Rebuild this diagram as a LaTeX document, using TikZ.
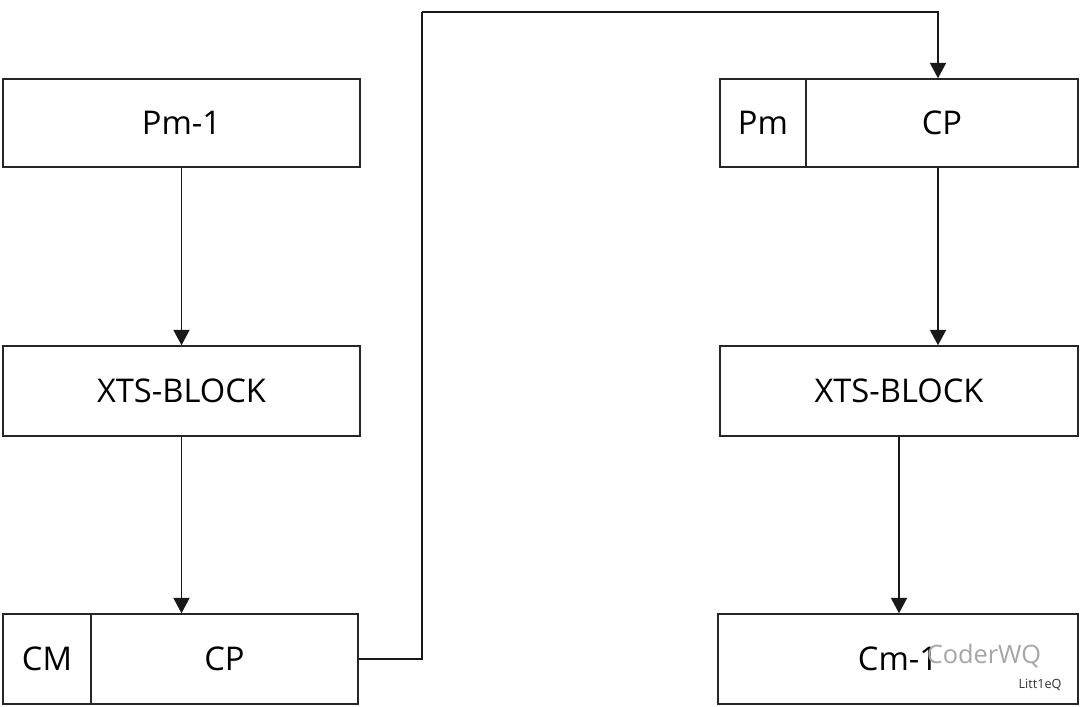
\documentclass[tikz,border=0pt]{standalone}
\usepackage{fontspec}
\setmainfont{Open Sans}
\usetikzlibrary{arrows.meta}
\begin{document}
\begin{tikzpicture}[x=0.75pt,y=-0.75pt,
  box/.style={draw=black!85,line width=1.1pt,fill=white,inner sep=0pt,font=\fontsize{24.5}{28}\selectfont},
  arr/.style={draw=black!90,line width=1.1pt,-{Triangle[width=12pt,length=11.5pt]}},
  wire/.style={draw=black!90,line width=1.1pt}]
\useasboundingbox (0,0) rectangle (1080,706);
% left column
\node[box,minimum width=267.75pt,minimum height=66pt] (a) at (181.5,123) {Pm-1};
\node[box,minimum width=267.75pt,minimum height=67.5pt] (b) at (181.5,391) {XTS-BLOCK};
\node[box,minimum width=66pt,minimum height=67.5pt] (ccm) at (47,659) {CM};
\node[box,minimum width=200.25pt,minimum height=67.5pt] (ccp) at (224.5,659) {CP};
% right column
\node[box,minimum width=64.5pt,minimum height=66pt] (dpm) at (763,123) {Pm};
\node[box,minimum width=204pt,minimum height=66pt] (dcp) at (942,123) {CP};
\node[box,minimum width=268.5pt,minimum height=67.5pt] (e) at (899,391) {XTS-BLOCK};
\node[box,minimum width=270pt,minimum height=67.5pt] (f) at (898,659) {Cm-1};
% watermark
\node[text=black!35,font=\fontsize{19}{22}\selectfont,inner sep=0pt] (wm) at (984,656) {CoderWQ};
\node[text=black!80,font=\fontsize{9.5}{11}\selectfont,inner sep=0pt] (wm2) at (1040,685) {Litt1eQ};
% connectors
\coordinate (turn) at (422,12);
\draw[arr] (a.south) -- (b.north);
\draw[arr] (b.south) -- (b.south |- ccp.north);
\draw[arr] ([xshift=-3pt]dcp.south) -- ([xshift=-3pt]dcp.south |- e.north);
\draw[arr] (e.south) -- (e.south |- f.north);
\draw[wire] (ccp.east) -| (turn);
\draw[arr] (turn) -| ([xshift=-3pt]dcp.north);
\end{tikzpicture}
\end{document}
